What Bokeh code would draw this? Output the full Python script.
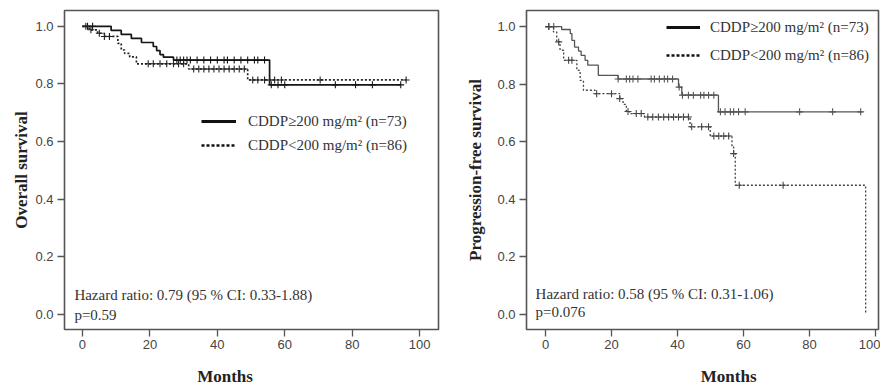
import numpy as np
from bokeh.plotting import figure
from bokeh.layouts import row
from bokeh.models import (Range1d, FixedTicker, PrintfTickFormatter, Legend, LegendItem,
                          Label, LinearAxis)
from bokeh.embed import file_html
from bokeh.resources import INLINE

# ---------------- data ----------------
x_ticks = [0, 20, 40, 60, 80, 100]
y_ticks = [0.0, 0.2, 0.4, 0.6, 0.8, 1.0]
label_hi = "CDDP\u2265200 mg/m\u00b2 (n=73)"
label_lo = "CDDP<200 mg/m\u00b2 (n=86)"

# Overall survival, CDDP>=200
os_hi_t = [0, 8.5, 11.5, 14.5, 17.5, 21, 22, 23, 24, 27, 55.5]
os_hi_s = [1.0, 0.986, 0.972, 0.958, 0.944, 0.930, 0.916, 0.902, 0.893, 0.883, 0.797]
os_hi_end = 94.5
os_hi_cens = [1.5, 3, 28, 29, 30, 31, 32, 34, 36, 38, 40, 42, 43, 45, 47, 49, 51, 52, 54,
              56, 58, 60, 75, 81, 86, 94.4]

# Overall survival, CDDP<200
os_lo_t = [0, 2, 4.5, 6.5, 10.5, 11.5, 12.5, 14, 16, 31.5, 49]
os_lo_s = [1.0, 0.988, 0.976, 0.965, 0.941, 0.918, 0.906, 0.894, 0.870, 0.852, 0.814]
os_lo_end = 96
os_lo_cens = [1, 2.5, 5, 6.5, 8, 19.5, 21, 23, 25, 27, 28.5, 30, 33, 34.5, 36, 37.5, 39,
              40.5, 42, 43.5, 45, 46.5, 48, 50.5, 52, 54, 55.5, 57, 59, 70.5, 96]

# Progression-free survival, CDDP>=200
pfs_hi_t = [0, 4.9, 7.5, 8, 8.8, 10, 10.8, 12, 12.8, 16, 22, 40.3, 41.3, 52.4]
pfs_hi_s = [1.0, 0.99, 0.976, 0.952, 0.929, 0.915, 0.90, 0.883, 0.866, 0.831, 0.818,
            0.790, 0.762, 0.704]
pfs_hi_end = 96
pfs_hi_cens = [1, 2.5, 22, 24.5, 25.5, 26.5, 28, 32, 33, 34.5, 36, 37, 38.5, 40.5, 41.5,
               43.3, 44.8, 47, 48, 49.4, 51, 53, 54.4, 56, 57, 58.5, 60.5, 77, 87, 95.5]

# Progression-free survival, CDDP<200
pfs_lo_t = [0, 2.4, 3.4, 4.4, 5.5, 9.5, 10.5, 11.5, 15, 22.5, 23.5, 24.5, 25.5, 30,
            43.8, 49.9, 56.5, 57, 57.5, 97]
pfs_lo_s = [1.0, 0.982, 0.947, 0.918, 0.883, 0.848, 0.813, 0.779, 0.767, 0.75, 0.73,
            0.705, 0.698, 0.686, 0.652, 0.62, 0.582, 0.559, 0.449, 0.0]
pfs_lo_end = 97
pfs_lo_cens = [1, 4, 7, 8, 15.5, 20, 22.5, 25, 27.5, 29, 31, 32.5, 34.2, 35.8, 37.3, 38.8,
               40.3, 41.8, 43.3, 44.3, 47.3, 49.4, 51, 52.5, 54, 55.5, 57, 58.7, 72]

hr_os = ["Hazard ratio: 0.79 (95 % CI: 0.33-1.88)", "p=0.59"]
hr_pfs = ["Hazard ratio: 0.58 (95 % CI: 0.31-1.06)", "p=0.076"]
x_title = "Months"

SERIF = "Liberation Serif"
SANS = "Liberation Sans"


def surv_at(ts, ss, t):
    ts = np.asarray(ts, float)
    ss = np.asarray(ss, float)
    idx = np.searchsorted(ts, np.asarray(t, float), side="right") - 1
    return ss[idx]


def km_curve(p, ts, ss, end, cens, color, width, dash):
    xs = list(ts)
    ys = list(ss)
    if end > xs[-1]:
        xs.append(end)
        ys.append(ys[-1])
    p.step(xs, ys, mode="after", line_color=color, line_width=width, line_dash=dash)
    p.scatter(cens, surv_at(ts, ss, cens), marker="cross", size=7,
              line_color=color, line_width=1.1)


def make_fig(width, x_rng, y_rng, ylabel, yl_standoff, mb_left, mb_top, months_pos):
    p = figure(width=width, height=388, output_backend="svg", toolbar_location=None,
               x_range=Range1d(*x_rng), y_range=Range1d(*y_rng),
               min_border_left=mb_left, min_border_right=2, min_border_top=mb_top,
               min_border_bottom=388 - 329)
    p.grid.visible = False
    p.outline_line_color = "#555555"
    p.outline_line_width = 1.6
    p.background_fill_color = "white"
    p.border_fill_color = "white"
    for ax in (p.xaxis[0], p.yaxis[0]):
        ax.axis_line_color = None
        ax.major_tick_line_color = "#555555"
        ax.major_tick_line_width = 1.3
        ax.major_tick_out = 7
        ax.major_tick_in = 0
        ax.minor_tick_line_color = None
        ax.major_label_text_font = SANS
        ax.major_label_text_font_size = "13px"
        ax.major_label_text_color = "#444444"
    p.xaxis.ticker = FixedTicker(ticks=x_ticks)
    p.yaxis.ticker = FixedTicker(ticks=y_ticks)
    p.yaxis.formatter = PrintfTickFormatter(format="%.1f")
    p.xaxis.major_label_standoff = 3
    p.yaxis.major_label_standoff = 4
    p.yaxis.axis_label = ylabel
    p.yaxis.axis_label_text_font = SERIF
    p.yaxis.axis_label_text_font_style = "bold"
    p.yaxis.axis_label_text_font_size = "17px"
    p.yaxis.axis_label_text_color = "#222222"
    p.yaxis.axis_label_standoff = yl_standoff
    # x-axis title as a label-only axis, placed off-centre like the original
    t_ax = LinearAxis(ticker=FixedTicker(ticks=[months_pos]),
                      major_label_overrides={months_pos: x_title},
                      axis_line_color=None, major_tick_line_color=None,
                      minor_tick_line_color=None, major_tick_out=0, major_tick_in=0,
                      major_label_standoff=15, major_label_text_font=SERIF,
                      major_label_text_font_style="bold",
                      major_label_text_font_size="17px",
                      major_label_text_color="#222222")
    p.add_layout(t_ax, "below")
    return p


def add_legend(p, loc, spacing, glyph_w, standoff):
    da = p.line([np.nan], [np.nan], line_color="#111111", line_width=3)
    db = p.line([np.nan], [np.nan], line_color="#111111", line_width=2.5, line_dash="3 2")
    leg = Legend(items=[LegendItem(label=label_hi, renderers=[da]),
                        LegendItem(label=label_lo, renderers=[db])],
                 location=loc, padding=0, margin=0, spacing=spacing,
                 glyph_width=glyph_w, glyph_height=20, label_height=20,
                 label_standoff=standoff,
                 label_text_font=SERIF, label_text_font_size="15px",
                 label_text_color="#333333", border_line_color=None,
                 background_fill_alpha=0)
    p.add_layout(leg)


# ---------------- left: overall survival ----------------
p1 = make_fig(440, (-5.33, 105.6), (-0.052, 1.055), "Overall survival", 1, 64, 8, 42.3)
km_curve(p1, os_hi_t, os_hi_s, os_hi_end, os_hi_cens, "#161616", 1.7, "solid")
km_curve(p1, os_lo_t, os_lo_s, os_lo_end, os_lo_cens, "#222222", 1.7, "2 2")
add_legend(p1, (137, 174), 4, 35, 12)
for txt, yy in zip(hr_os, [0.066, 0.0]):
    p1.add_layout(Label(x=-2.4, y=yy, text=txt, text_font=SERIF, text_font_size="15px",
                        text_color="#333333", text_baseline="middle"))

# ---------------- right: progression-free survival ----------------
p2 = make_fig(440, (-5.76, 100.9), (-0.052, 1.056), "Progression-free survival", 9, 86, 10, 55.5)
km_curve(p2, pfs_hi_t, pfs_hi_s, pfs_hi_end, pfs_hi_cens, "#555555", 1.3, "solid")
km_curve(p2, pfs_lo_t, pfs_lo_s, pfs_lo_end, pfs_lo_cens, "#444444", 1.3, "2 2")
add_legend(p2, (140, 264), 8, 34, 10)
for txt, yy in zip(hr_pfs, [0.073, 0.01]):
    p2.add_layout(Label(x=-3.0, y=yy, text=txt, text_font=SERIF, text_font_size="15px",
                        text_color="#333333", text_baseline="middle"))

layout = row(p1, p2)
open("out.html", "w").write(file_html(layout, INLINE))
